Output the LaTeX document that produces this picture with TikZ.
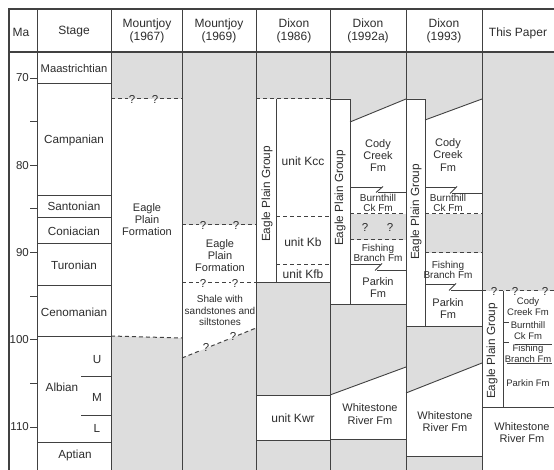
\documentclass[tikz,border=0pt]{standalone}
\usepackage{fontspec}
\setmainfont{Liberation Sans}
\definecolor{fillg}{RGB}{221,221,221}
\definecolor{ln}{RGB}{65,65,65}
\definecolor{txt}{RGB}{45,45,45}
\tikzset{
  frame/.style={draw=ln, line width=1.1pt},
  colline/.style={draw=ln, line width=0.9pt},
  bnd/.style={draw=ln, line width=0.9pt},
  thinbnd/.style={draw=ln, line width=0.7pt},
  dsh/.style={draw=ln, line width=1pt, dash pattern=on 4pt off 3pt},
  lbl/.style={inner sep=0pt, text=txt, align=center},
  hdr/.style={lbl, font=\fontsize{12}{12.5}\selectfont},
  stg/.style={lbl, font=\fontsize{11.7}{12}\selectfont},
  fm/.style={lbl, font=\fontsize{11}{12.3}\selectfont},
  shale/.style={lbl, font=\fontsize{10}{11.5}\selectfont},
  sm/.style={lbl, font=\fontsize{10}{10}\selectfont},
  tiny/.style={lbl, font=\fontsize{9.5}{11}\selectfont},
  grp/.style={lbl, font=\fontsize{11.8}{12}\selectfont, rotate=90},
  qm/.style={lbl, font=\fontsize{11.5}{12}\selectfont},
  malbl/.style={lbl, font=\fontsize{11.5}{12}\selectfont, anchor=east},
}
\newcommand{\interfinger}[6]{% left, right, mid, yupper, ylower
  \draw[bnd] (#1,#4) -- (#3+2,#4);
  \draw[bnd] (#3-2,#5) -- (#2,#5);
  \draw[bnd] (#3-4,#5+0.5) -- (#3+3,#4-0.5);
}
\begin{document}
\begin{tikzpicture}[x=1pt,y=-1pt]
\useasboundingbox (0,0) rectangle (554,470);
\fill[white] (0,0) rectangle (554,470);
% grey background of the data columns
\fill[fillg] (111,52) rectangle (554,470);
% white bodies
\fill[white] (111,99) -- (182,99) -- (182,338) -- (111,336) -- cycle;
\fill[white] (182,225) -- (256,225) -- (256,328) -- (182,358) -- cycle;
\fill[white] (256,99) rectangle (330,282);
\fill[white] (256,395) rectangle (330,440);
\fill[white] (330,99) -- (350,99) -- (350,122) -- (406,99) -- (406,304) -- (330,304) -- cycle;
\fill[fillg] (350,214) rectangle (406,240);
\fill[white] (330,395) -- (406,367) -- (406,439) -- (330,439) -- cycle;
\fill[white] (406,99) -- (425,99) -- (425,120) -- (482,99) -- (482,326) -- (406,326) -- cycle;
\fill[fillg] (425,214) rectangle (482,253);
\fill[white] (406,393) -- (482,363) -- (482,456) -- (406,456) -- cycle;
\fill[white] (482,291) rectangle (554,470);

% frame and columns
\draw[frame] (9,470) -- (9,9) -- (554,9);
\draw[frame] (9,52) -- (554,52);
\foreach \cx in {37,111,182,256,330,406,482}
  \draw[colline] (\cx,9) -- (\cx,470);

% headers
\node[hdr] (hMa) at (21,32) {Ma};
\node[hdr] (hStage) at (74,32) {Stage};
\node[hdr] (hM67) at (147,31) {Mountjoy\\(1967)};
\node[hdr] (hM69) at (219,31) {Mountjoy\\(1969)};
\node[hdr] (hD86) at (294,31) {Dixon\\(1986)};
\node[hdr] (hD92) at (368,31) {Dixon\\(1992a)};
\node[hdr] (hD93) at (444,31) {Dixon\\(1993)};
\node[hdr] (hTP) at (518,33) {This Paper};

% Ma scale
\foreach \m in {70,75,...,110}
  \draw[bnd] (30,{78+(\m-70)*8.725}) -- (37,{78+(\m-70)*8.725});
\foreach \m in {70,80,...,110}
  \node[malbl] (ma\m) at (29,{78+(\m-70)*8.725}) {\m};

% stage boundaries
\foreach \sy in {83,195,217,243,285,336,442}
  \draw[bnd] (37,\sy) -- (111,\sy);
\draw[bnd] (81,376) -- (111,376);
\draw[bnd] (81,415) -- (111,415);
\node[stg, font=\fontsize{11.2}{12}\selectfont] (sMaa) at (74,68) {Maastrichtian};
\node[stg] (sCam) at (74,140) {Campanian};
\node[stg] (sSan) at (74,206) {Santonian};
\node[stg] (sCon) at (74,231) {Coniacian};
\node[stg] (sTur) at (74,265) {Turonian};
\node[stg] (sCen) at (74,312) {Cenomanian};
\node[stg] (sAlb) at (62,387) {Albian};
\node[stg] (sU) at (97,360) {U};
\node[stg] (sM) at (97,397) {M};
\node[stg] (sL) at (97,428) {L};
\node[stg] (sApt) at (75,455) {Aptian};

% Mountjoy 1967
\draw[dsh] (111,99) -- (128,99);
\node[qm] (q1) at (132,99) {?};
\draw[dsh] (137,99) -- (151,99);
\node[qm] (q2) at (155,99) {?};
\draw[dsh] (160,99) -- (182,99);
\draw[dsh] (111,336) -- (182,338);
\node[fm] (epf67) at (147,219.5) {Eagle\\Plain\\Formation};

% Mountjoy 1969
\draw[dsh] (182,225) -- (199,225);
\node[qm] (q3) at (203,225) {?};
\draw[dsh] (208,225) -- (232,225);
\node[qm] (q4) at (236,225) {?};
\draw[dsh] (241,225) -- (256,225);
\node[fm] (epf69) at (220,255.5) {Eagle\\Plain\\Formation};
\draw[dsh] (182,283) -- (199,283);
\node[qm] (q5) at (203,283) {?};
\draw[dsh] (208,283) -- (231,283);
\node[qm] (q6) at (235,283) {?};
\draw[dsh] (240,283) -- (256,283);
\node[shale] (shale) at (220,310.5) {Shale with\\sandstones and\\siltstones};
\draw[dsh] (182,358) -- (201,350.3);
\node[qm] (q7) at (206,347.5) {?};
\draw[dsh] (211,346.2) -- (228,339.4);
\node[qm] (q8) at (233,336.5) {?};
\draw[dsh] (238,335.3) -- (256,328);

% Dixon 1986
\draw[dsh] (256,99) -- (330,99);
\draw[bnd] (276,99) -- (276,282);
\draw[dsh] (276,217) -- (330,217);
\draw[dsh] (276,265) -- (330,265);
\draw[bnd] (256,282) -- (330,282);
\node[grp] (g86) at (267,194) {Eagle Plain Group};
\node[fm, font=\fontsize{12}{12}\selectfont] (kcc) at (303,161) {unit Kcc};
\node[fm, font=\fontsize{12}{12}\selectfont] (kb) at (303,242) {unit Kb};
\node[fm, font=\fontsize{12}{12}\selectfont] (kfb) at (303,274.5) {unit Kfb};
\draw[bnd] (256,395) -- (330,395);
\draw[bnd] (256,440) -- (330,440);
\node[fm, font=\fontsize{12}{12}\selectfont] (kwr) at (293,418) {unit Kwr};

% Dixon 1992a
\draw[bnd] (330,99) -- (350,99) -- (350,304);
\draw[bnd] (350,122) -- (406,99);
\draw[bnd] (330,304) -- (406,304);
\node[grp] (g92) at (340,198) {Eagle Plain Group};
\node[fm] (cc92) at (378,155.5) {Cody\\Creek\\Fm};
\interfinger{350}{406}{380}{187}{192}{}
\node[sm] (bc92) at (378,203) {Burnthill\\Ck Fm};
\draw[dsh] (350,214) -- (406,214);
\node[qm, font=\fontsize{11.5}{11}\selectfont] (q9) at (365,227) {?};
\node[qm, font=\fontsize{11.5}{11}\selectfont] (q10) at (390,227) {?};
\draw[dsh] (350,240) -- (406,240);
\node[sm] (fb92) at (378,252.5) {Fishing\\Branch Fm};
\interfinger{350}{406}{379}{264}{270}{}
\node[fm] (pk92) at (378,287.5) {Parkin\\Fm};
\draw[bnd] (330,395) -- (406,367);
\draw[bnd] (330,439) -- (406,439);
\node[fm] (wr92) at (370,414) {Whitestone\\River Fm};

% Dixon 1993
\draw[bnd] (406,99) -- (425,99) -- (425,326);
\draw[bnd] (425,120) -- (482,99);
\draw[bnd] (406,326) -- (482,326);
\node[grp] (g93) at (416,212) {Eagle Plain Group};
\node[fm] (cc93) at (448,155) {Cody\\Creek\\Fm};
\interfinger{425}{482}{454}{187}{193}{}
\node[sm] (bc93) at (448,203) {Burnthill\\Ck Fm};
\draw[dsh] (425,214) -- (482,214);
\draw[dsh] (425,253) -- (482,253);
\node[sm] (fb93) at (448,269.5) {Fishing\\Branch Fm};
\interfinger{425}{482}{453}{284}{290}{}
\node[fm] (pk93) at (448,308.5) {Parkin\\Fm};
\draw[bnd] (406,393) -- (482,363);
\draw[bnd] (406,456) -- (482,456);
\node[fm] (wr93) at (445,421.5) {Whitestone\\River Fm};

% This Paper
\draw[dsh] (482,291) -- (489,291);
\node[qm] (q11) at (494,291) {?};
\draw[dsh] (499,291) -- (510,291);
\node[qm] (q12) at (515,291) {?};
\draw[dsh] (520,291) -- (540,291);
\node[qm] (q13) at (545,291) {?};
\draw[dsh] (550,291) -- (554,291);
\draw[bnd] (503,291) -- (503,407);
\draw[bnd] (482,407) -- (554,407);
\node[grp] (gtp) at (492,351) {Eagle Plain Group};
\node[tiny] (cctp) at (528,307) {Cody\\Creek Fm};
\draw[thinbnd] (503,322) -- (509,322);
\node[tiny] (bctp) at (528,331) {Burnthill\\Ck Fm};
\draw[thinbnd] (503,342) -- (509,342);
\draw[thinbnd] (515,344) -- (552,344);
\node[tiny] (fbtp) at (528,353.5) {Fishing\\Branch Fm};
\draw[thinbnd] (507,363) -- (552,363);
\node[tiny] (pktp) at (528,383) {Parkin Fm};
\node[fm] (wrtp) at (522,432.5) {Whitestone\\River Fm};
\end{tikzpicture}
\end{document}
